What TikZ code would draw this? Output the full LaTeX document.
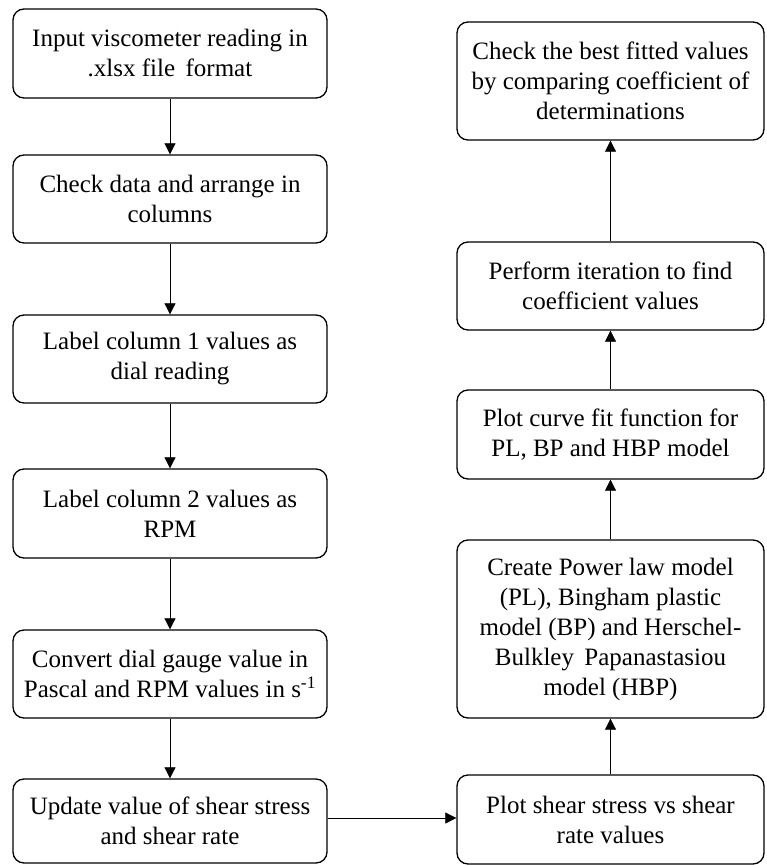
\documentclass[tikz,border=0pt]{standalone}
\usepackage{fontspec}
\setmainfont{Liberation Serif}
\usetikzlibrary{arrows.meta}
\begin{document}
\begin{tikzpicture}[x=1pt,y=-1pt,
  stepbox/.style={draw, line width=1.3pt, rounded corners=11pt, align=center,
    inner sep=0pt, font=\rmfamily\fontsize{25}{30}\selectfont},
  leftbox/.style={stepbox, minimum width=314pt},
  rightbox/.style={stepbox, minimum width=307pt},
  flow/.style={line width=0.7pt, -{Triangle[length=11pt,width=11pt]}}]
\useasboundingbox (0,0) rectangle (766,865);
% left column
\node [leftbox, minimum height=89pt] (input) at (170,53.5) {Input viscometer reading in\\.xlsx file\, format};
\node [leftbox, minimum height=88pt] (check) at (170,199) {Check data and arrange in\\columns};
\node [leftbox, minimum height=88pt] (dial) at (170,359) {Label column 1 values as\\dial reading};
\node [leftbox, minimum height=89pt] (rpm) at (170,513.5) {Label column 2 values as\\RPM};
\node [leftbox, minimum height=88pt] (convert) at (170,674) {Convert dial gauge value in\\Pascal and RPM values in s\textsuperscript{-1}};
\node [leftbox, minimum height=84pt] (update) at (170,821) {Update value of shear stress\\and shear rate};
% right column
\node [rightbox, minimum height=89pt] (plotss) at (610.5,819.5) {Plot shear stress vs shear\\rate values};
\node [rightbox, minimum height=178pt] (models) at (610.5,629) {Create Power law model\\(PL), Bingham plastic\\model (BP) and Herschel-\\Bulkley\, Papanastasiou\\model (HBP)};
\node [rightbox, minimum height=89pt] (curvefit) at (610.5,434.5) {Plot curve fit function for\\PL, BP and HBP model};
\node [rightbox, minimum height=88pt] (iterate) at (610.5,286) {Perform iteration to find\\coefficient values};
\node [rightbox, minimum height=118pt] (best) at (610.5,81) {Check the best fitted values\\by comparing coefficient of\\determinations};
% connectors
\draw [flow] (input) -- (check);
\draw [flow] (check) -- (dial);
\draw [flow] (dial) -- (rpm);
\draw [flow] (rpm) -- (convert);
\draw [flow] (convert) -- (update);
\draw [flow] ([yshift=3pt]update.east) -- ([yshift=3pt]update.east -| plotss.west);
\draw [flow] (plotss) -- (models);
\draw [flow] (models) -- (curvefit);
\draw [flow] (curvefit) -- (iterate);
\draw [flow] (iterate) -- (best);
\end{tikzpicture}
\end{document}
